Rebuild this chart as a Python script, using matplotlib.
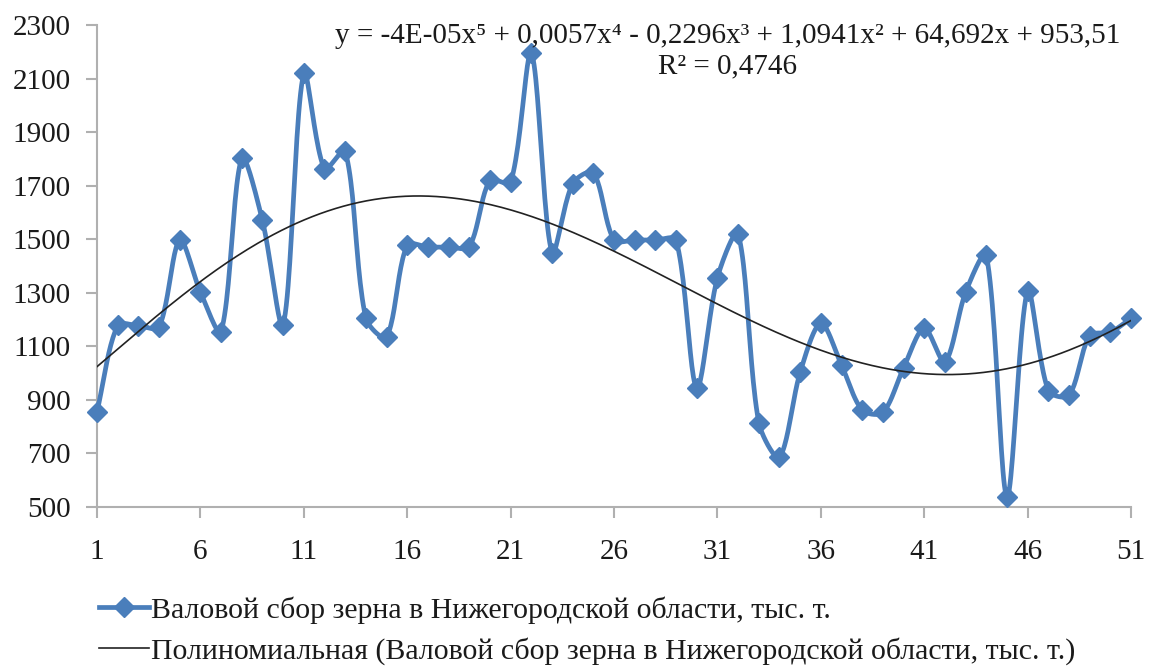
import numpy as np
import matplotlib
matplotlib.use('Agg')
import matplotlib.pyplot as plt

# Данные: валовой сбор зерна (тыс. т), периоды 1..51
periods = list(range(1, 52))
harvest = [855, 1178, 1177, 1172, 1497, 1303, 1155, 1802, 1570, 1180,
           2120, 1763, 1830, 1205, 1135, 1478, 1471, 1471, 1472, 1720,
           1712, 2195, 1450, 1708, 1748, 1497, 1497, 1497, 1497, 945,
           1357, 1520, 815, 686, 1003, 1187, 1030, 862, 853, 1020,
           1168, 1042, 1302, 1441, 538, 1308, 935, 917, 1140, 1153,
           1205]
xticks = [1, 6, 11, 16, 21, 26, 31, 36, 41, 46, 51]
yticks = [500, 700, 900, 1100, 1300, 1500, 1700, 1900, 2100, 2300]

series_label = 'Валовой сбор зерна в Нижегородской области, тыс. т.'
trend_label = 'Полиномиальная (Валовой сбор зерна в Нижегородской области, тыс. т.)'
equation = 'y = -4E-05x⁵ + 0,0057x⁴ - 0,2296x³ + 1,0941x² + 64,692x + 953,51\nR² = 0,4746'

blue = '#4a7ebb'
text_color = '#1a1a1a'
axis_color = '#b0b0b0'
fonts = ['Liberation Serif', 'DejaVu Serif']
plt.rcParams['font.family'] = fonts


def smooth_line(ax, x, y, n=24, tension=0.3):
    # сглаженная линия (кривые Безье, касательные по длине хорд на экране)
    pts = ax.transData.transform(np.column_stack([x, y]))
    m = len(pts)
    out = []
    t = np.linspace(0, 1, n)[:, None]
    for i in range(m - 1):
        p0, p1 = pts[i], pts[i + 1]
        a = pts[max(i - 1, 0)]
        d = pts[min(i + 2, m - 1)]
        seg = np.linalg.norm(p1 - p0)
        lp = np.linalg.norm(p0 - a)
        c1 = p0 + (p1 - a) * tension * seg / (lp + seg) if lp > 0 else p0 + (p1 - p0) * tension
        ln = np.linalg.norm(d - p1)
        c2 = p1 - (d - p0) * tension * seg / (ln + seg) if ln > 0 else p1 - (p1 - p0) * tension
        b = (1 - t)**3 * p0 + 3 * (1 - t)**2 * t * c1 + 3 * (1 - t) * t**2 * c2 + t**3 * p1
        out.append(b)
    out = np.vstack(out)
    data = ax.transData.inverted().transform(out)
    return data[:, 0], data[:, 1]


fig = plt.figure(figsize=(11.49, 6.66), dpi=100)
ax = fig.add_axes([0.0844, 0.2387, 0.9, 0.7238])
ax.set_xlim(1, 51)
ax.set_ylim(500, 2300)

# основной ряд
sx, sy = smooth_line(ax, periods, harvest)
ax.plot(sx, sy, color=blue, lw=3.4, zorder=3, clip_on=False)
ax.plot(periods, harvest, ls='none', marker='D', ms=10.5, color=blue,
        zorder=4, clip_on=False)

# полиномиальный тренд 5-й степени
coef = np.polyfit(periods, harvest, 5)
tx = np.linspace(1, 51, 400)
ax.plot(tx, np.polyval(coef, tx), color='#222222', lw=1.2, zorder=5)

ax.set_xticks(xticks)
ax.set_yticks(yticks)
for s in ['top', 'right']:
    ax.spines[s].set_visible(False)
for s in ['left', 'bottom']:
    ax.spines[s].set_color(axis_color)
    ax.spines[s].set_linewidth(1.5)
ax.tick_params(axis='both', colors=axis_color, length=8, width=1.5,
               labelcolor=text_color, labelsize=21)
ax.tick_params(axis='y', pad=11)
ax.tick_params(axis='x', pad=15)
for lbl in ax.get_xticklabels() + ax.get_yticklabels():
    lbl.set_family(fonts)

fig.text(0.633, 0.923, equation, ha='center', va='center', fontsize=21,
         color=text_color, linespacing=1.22, family=fonts)

# легенда
h1, = ax.plot([], [], color=blue, lw=3.4, marker='D', ms=10.5)
h2, = ax.plot([], [], color='#222222', lw=1.2)
fig.legend([h1, h2], [series_label, trend_label], loc='upper left',
           bbox_to_anchor=(0.063, 0.145), frameon=False,
           handlelength=1.65, handletextpad=0.08, labelspacing=0.45,
           labelcolor=text_color, prop={'family': fonts, 'size': 21.5})

fig.savefig('out.png', dpi=100)
